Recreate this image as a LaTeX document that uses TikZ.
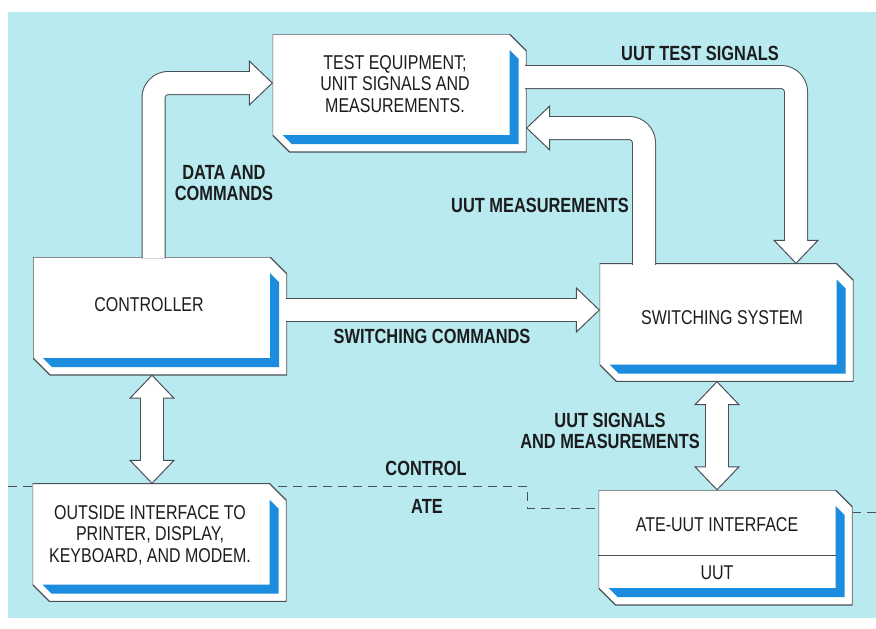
\documentclass[tikz,border=0pt]{standalone}
\usepackage{fontspec}
\newfontfamily\diafont{Liberation Sans}[FakeStretch=0.8]
\usepackage{tikz}
\usetikzlibrary{calc}
\definecolor{panel}{RGB}{184,234,240}
\definecolor{stripe}{RGB}{28,140,222}
\definecolor{edge}{RGB}{75,80,85}
\definecolor{ink}{RGB}{28,28,30}

\newcommand{\headat}[3]{%
  \filldraw[headbox] (#1) -- ++({-23*(#2)-22*(#3)},{-23*(#3)+22*(#2)}) -- ++({44*(#3)},{-44*(#2)}) -- cycle;}

\begin{document}
\begin{tikzpicture}[x=1pt, y=-1pt, font=\diafont\fontsize{20}{21.5}\selectfont, text=ink,
  unit/.style={minimum width=254pt, minimum height=118pt, inner sep=0pt,
    path picture={
      \coordinate (p-nw) at (path picture bounding box.north west);
      \coordinate (p-se) at (path picture bounding box.south east);
      \coordinate (p-ne) at (p-nw -| p-se);
      \coordinate (p-sw) at (p-nw |- p-se);
      \fill[white] (p-nw) -- ($(p-ne)+(-17,0)$) -- ($(p-ne)+(0,17)$) -- (p-se)
        -- ($(p-sw)+(17,0)$) -- ($(p-sw)+(0,-17)$) -- cycle;
      \fill[stripe] ($(p-sw)+(10,-17)$) -- ($(p-se)+(-17,-17)$) -- ($(p-ne)+(-17,16)$)
        -- ($(p-ne)+(-8,25)$) -- ($(p-se)+(-8,-8)$) -- ($(p-sw)+(19,-8)$) -- cycle;
      \draw[edge, line width=1.2pt] (p-nw) -- ($(p-ne)+(-17,0)$) -- ($(p-ne)+(0,17)$) -- (p-se)
        -- ($(p-sw)+(17,0)$) -- ($(p-sw)+(0,-17)$) -- cycle;
    }},
  boxtext/.style={align=center, inner sep=0pt},
  tag/.style={align=center, inner sep=0pt, font=\diafont\bfseries\fontsize{20.5}{21}\selectfont},
  pipe/.style={draw=edge, line width=24pt, rounded corners=15pt},
  pipecore/.style={draw=white, line width=22pt, rounded corners=15pt},
  headbox/.style={draw=edge, fill=white, line width=1pt, line join=miter},
  cut/.style={draw=edge, line width=0.9pt, dash pattern=on 9pt off 6pt}]

  \useasboundingbox (0,0) rectangle (876,629);
  \fill[panel] (8,12) rectangle (876,618);

  % control / ATE boundary
  \draw[cut] (8,486) -- (527,486) -- (527,508) -- (600,508);
  \draw[cut] (852,512) -- (876,512);

  \node[unit] (te) at (399.5,93) {};
  \node[unit] (ctrl) at (160,316) {};
  \node[unit] (sw) at (726.5,322.5) {};
  \node[unit] (out) at (159.5,542.5) {};
  \node[unit, minimum height=115pt] (ate) at (725.5,547.5) {};
  \draw[edge, line width=1pt] ([yshift=-7.5pt]ate.west) -- ([xshift=-17pt,yshift=-7.5pt]ate.east);

  \node[boxtext] (te-t) at ([xshift=-4.5pt,yshift=9pt]te.center) {TEST EQUIPMENT;\\UNIT SIGNALS AND\\MEASUREMENTS.};
  \node[boxtext] (ctrl-t) at ([xshift=-11pt,yshift=11pt]ctrl.center) {CONTROLLER};
  \node[boxtext] (sw-t) at ([xshift=-4.5pt,yshift=4.5pt]sw.center) {SWITCHING SYSTEM};
  \node[boxtext] (out-t) at ([xshift=-9.5pt,yshift=7.5pt]out.center) {OUTSIDE INTERFACE TO\\PRINTER, DISPLAY,\\KEYBOARD, AND MODEM.};
  \node[boxtext] (ate-t) at ([xshift=-8.5pt,yshift=22.5pt]ate.center) {ATE-UUT INTERFACE};
  \node[boxtext] (uut-t) at ([xshift=-8.5pt,yshift=-25.5pt]ate.center) {UUT};

  % data and commands
  \coordinate (dc-a) at ([xshift=-6.5pt,yshift=-1.5pt]ctrl.north);
  \coordinate (dc-tip) at ([yshift=10pt]te.west);
  \coordinate (dc-b) at ([xshift=-22pt]dc-tip);
  \path[pipe] (dc-a) |- (dc-b);
  \headat{dc-tip}{1}{0}
  \path[pipecore] (dc-a) |- (dc-b);

  % uut test signals
  \coordinate (uts-a) at ([xshift=-1.5pt,yshift=16pt]te.east);
  \coordinate (uts-tip) at ([xshift=69.5pt]sw.north);
  \coordinate (uts-b) at ([yshift=22pt]uts-tip);
  \path[pipe] (uts-a) -| (uts-b);
  \headat{uts-tip}{0}{1}
  \path[pipecore] (uts-a) -| (uts-b);

  % uut measurements
  \coordinate (um-a) at ([xshift=-82.5pt,yshift=-1.5pt]sw.north);
  \coordinate (um-tip) at ([yshift=-35pt]te.east);
  \coordinate (um-b) at ([xshift=22pt]um-tip);
  \path[pipe] (um-a) |- (um-b);
  \headat{um-tip}{-1}{0}
  \path[pipecore] (um-a) |- (um-b);

  % switching commands
  \coordinate (sc-a) at ([xshift=-1.5pt,yshift=6pt]ctrl.east);
  \coordinate (sc-tip) at (sc-a -| sw.west);
  \coordinate (sc-b) at ([xshift=-22pt]sc-tip);
  \path[pipe] (sc-a) -- (sc-b);
  \headat{sc-tip}{1}{0}
  \path[pipecore] (sc-a) -- (sc-b);

  % controller <-> outside interface
  \coordinate (co-top) at ([xshift=-8pt]ctrl.south);
  \coordinate (co-bot) at (co-top |- out.north);
  \coordinate (co-a) at ([yshift=-22pt]co-top);
  \coordinate (co-b) at ([yshift=22pt]co-bot);
  \path[pipe] (co-a) -- (co-b);
  \headat{co-top}{0}{-1}
  \headat{co-bot}{0}{1}
  \path[pipecore] (co-a) -- (co-b);

  % switching system <-> ate-uut interface
  \coordinate (sa-top) at ([xshift=-9.5pt]sw.south);
  \coordinate (sa-bot) at (sa-top |- ate.north);
  \coordinate (sa-a) at ([yshift=-22pt]sa-top);
  \coordinate (sa-b) at ([yshift=22pt]sa-bot);
  \path[pipe] (sa-a) -- (sa-b);
  \headat{sa-top}{0}{-1}
  \headat{sa-bot}{0}{1}
  \path[pipecore] (sa-a) -- (sa-b);

  \node[tag] (dc-l) at (224,183) {DATA AND\\COMMANDS};
  \node[tag] (uts-l) at (700,53) {UUT TEST SIGNALS};
  \node[tag] (um-l) at (540,205) {UUT MEASUREMENTS};
  \node[tag] (sc-l) at (432,336) {SWITCHING COMMANDS};
  \node[tag] (sa-l) at (610,431) {UUT SIGNALS\\AND MEASUREMENTS};
  \node[tag] (ctl-l) at (426,468) {CONTROL};
  \node[tag] (ate-l) at (427,506) {ATE};
\end{tikzpicture}
\end{document}
